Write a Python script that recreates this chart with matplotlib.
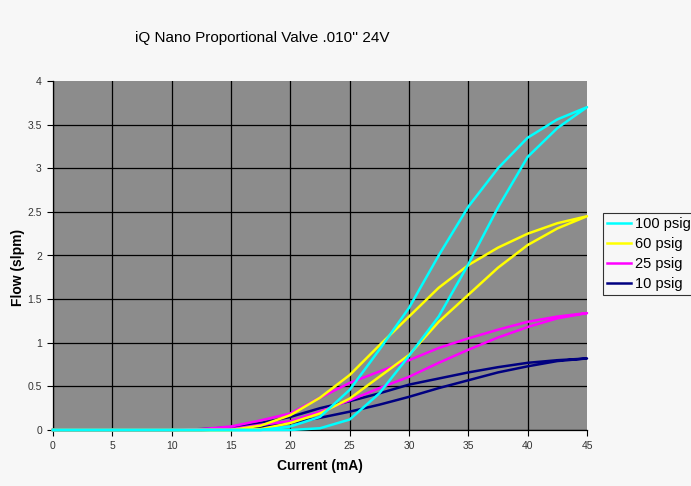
import matplotlib
matplotlib.use("Agg")
import matplotlib.pyplot as plt
import numpy as np

# data (flow in slpm vs current in mA)
current = [0, 5, 10, 12.5, 15, 17.5, 20, 22.5, 25, 27.5, 30, 32.5, 35, 37.5, 40, 42.5, 45]

psig100_up = [0, 0, 0, 0, 0, 0, 0, 0.02, 0.12, 0.42, 0.85, 1.30, 1.90, 2.55, 3.13, 3.46, 3.70]
psig100_down = [0, 0, 0, 0, 0, 0, 0.04, 0.15, 0.46, 0.92, 1.40, 2.00, 2.56, 3.00, 3.35, 3.56, 3.70]
psig60_up = [0, 0, 0, 0, 0, 0.01, 0.08, 0.19, 0.36, 0.61, 0.86, 1.24, 1.55, 1.86, 2.12, 2.31, 2.45]
psig60_down = [0, 0, 0, 0, 0, 0.05, 0.17, 0.37, 0.63, 0.97, 1.30, 1.63, 1.89, 2.09, 2.25, 2.37, 2.45]
psig25_up = [0, 0, 0, 0, 0.01, 0.06, 0.10, 0.21, 0.34, 0.48, 0.61, 0.77, 0.92, 1.06, 1.18, 1.28, 1.34]
psig25_down = [0, 0, 0, 0.01, 0.04, 0.11, 0.19, 0.37, 0.54, 0.67, 0.80, 0.94, 1.05, 1.15, 1.24, 1.30, 1.34]
psig10_up = [0, 0, 0, 0, 0.01, 0.03, 0.08, 0.14, 0.21, 0.29, 0.38, 0.48, 0.57, 0.66, 0.73, 0.79, 0.82]
psig10_down = [0, 0, 0, 0.01, 0.03, 0.08, 0.15, 0.25, 0.33, 0.42, 0.52, 0.59, 0.66, 0.72, 0.77, 0.80, 0.82]

labels = ["100 psig", "60 psig", "25 psig", "10 psig"]
colors = ["#00ffff", "#ffff00", "#ff00ff", "#000080"]
series = [(psig100_up, psig100_down), (psig60_up, psig60_down),
          (psig25_up, psig25_down), (psig10_up, psig10_down)]

plt.rcParams["font.family"] = ["Liberation Sans", "DejaVu Sans"]

fig = plt.figure(figsize=(6.91, 4.86), dpi=100, facecolor="#f7f7f7")
ax = fig.add_axes([53 / 691, 1 - 430 / 486, 534 / 691, 349 / 486])
ax.set_facecolor("#8c8c8c")

# each run goes up the current range, then back down (hysteresis loop)
loop_x = current + current[::-1][1:]
handles = []
for i in range(len(series) - 1, -1, -1):
    up, down = series[i]
    loop_y = up + down[::-1][1:]
    h, = ax.plot(loop_x, loop_y, color=colors[i], lw=1.8, clip_on=False,
                 zorder=3 + (len(series) - i) * 0.01)
    handles.insert(0, h)

ax.set_xlim(0, 45)
ax.set_ylim(0, 4)
ax.set_xticks(np.arange(0, 46, 5))
ax.set_yticks(np.arange(0, 4.01, 0.5))
ax.set_yticklabels(["0", "0.5", "1", "1.5", "2", "2.5", "3", "3.5", "4"])
ax.grid(True, color="black", lw=0.9)
ax.set_axisbelow(True)
ax.xaxis.get_gridlines()[-1].set_visible(False)
ax.yaxis.get_gridlines()[-1].set_visible(False)
for s in ["top", "right"]:
    ax.spines[s].set_visible(False)
for s in ["left", "bottom"]:
    ax.spines[s].set_color("black")
    ax.spines[s].set_linewidth(0.9)
ax.tick_params(length=4, width=0.8, labelsize=7.5, labelcolor="#333333", pad=4)

fig.text(262 / 691, 1 - 38 / 486, "iQ Nano Proportional Valve .010'' 24V",
         ha="center", va="center", fontsize=11)
fig.text(320 / 691, 1 - 466 / 486, "Current (mA)", ha="center", va="center",
         fontsize=10, fontweight="bold")
fig.text(18 / 691, 1 - 267 / 486, "Flow (slpm)", ha="center", va="center",
         fontsize=10, fontweight="bold", rotation=90)

leg = fig.legend(handles, labels, loc="upper left",
                 bbox_to_anchor=(603 / 691, 1 - 213 / 486), fontsize=10.5,
                 frameon=True, fancybox=False, handlelength=1.6, handletextpad=0.3,
                 borderpad=0.3, labelspacing=0.4, borderaxespad=0)
leg.get_frame().set_edgecolor("black")
leg.get_frame().set_linewidth(0.8)
leg.get_frame().set_facecolor("#f7f7f7")

fig.savefig("out.png", dpi=100, facecolor=fig.get_facecolor())
